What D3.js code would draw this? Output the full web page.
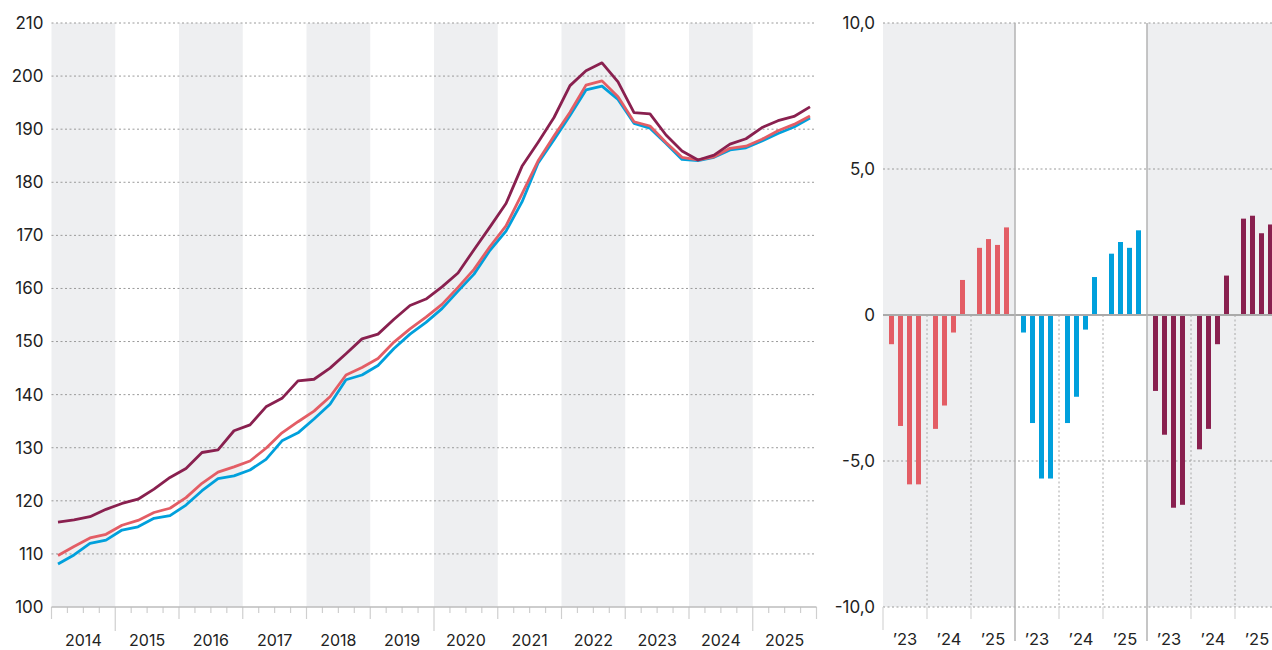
<!doctype html>
<html lang="en">
<head>
  <meta charset="utf-8">
  <script src="https://d3js.org/d3.v7.min.js"></script>
  <style>
    body { margin: 0; background: #fff; }
    text { font-family: Inter, "Noto Sans", sans-serif; fill: #222; }
  </style>
</head>
<body>
  <script>
    // ---- data ----
    var years = d3.range(2014, 2026);
    var quarters = [];
    years.forEach(function(y) { [1, 2, 3, 4].forEach(function(q) { quarters.push(y + "Q" + q); }); });

    var seriesMaroon = [116.0, 116.4, 117.0, 118.4, 119.5, 120.3, 122.2, 124.4, 126.1, 129.1, 129.6, 133.2,
                        134.3, 137.7, 139.3, 142.6, 142.9, 145.0, 147.7, 150.5, 151.4, 154.2, 156.8, 158.0,
                        160.3, 162.9, 167.3, 171.6, 176.0, 183.0, 187.5, 192.2, 198.2, 201.0, 202.5, 198.9,
                        193.1, 192.9, 188.9, 185.9, 184.2, 185.1, 187.2, 188.2, 190.3, 191.6, 192.4, 194.2];
    var seriesRed = [109.7, 111.4, 113.0, 113.7, 115.4, 116.3, 117.8, 118.6, 120.6, 123.3, 125.4, 126.4,
                     127.5, 129.9, 132.8, 134.9, 136.9, 139.6, 143.7, 145.1, 146.8, 149.9, 152.4, 154.6,
                     157.0, 160.2, 163.6, 167.9, 171.8, 177.8, 184.0, 188.7, 193.2, 198.3, 199.1, 196.1,
                     191.4, 190.6, 187.5, 184.7, 184.2, 184.8, 186.4, 186.8, 188.1, 189.7, 190.9, 192.5];
    var seriesBlue = [108.1, 109.8, 112.0, 112.6, 114.5, 115.1, 116.7, 117.2, 119.2, 121.9, 124.2, 124.7,
                      125.8, 127.8, 131.3, 132.8, 135.4, 138.2, 142.8, 143.7, 145.5, 148.7, 151.4, 153.6,
                      156.2, 159.5, 162.7, 167.2, 170.8, 176.3, 183.6, 188.0, 192.6, 197.4, 198.1, 195.6,
                      191.1, 190.2, 187.3, 184.3, 184.1, 184.7, 186.1, 186.5, 187.8, 189.2, 190.4, 192.1];
    var yTicks = d3.range(100, 211, 10);

    var barYears = ["’23", "’24", "’25"];
    var barQuarters = [1, 2, 3, 4];
    var barsRed = [-1.0, -3.8, -5.8, -5.8, -3.9, -3.1, -0.6, 1.2, 2.3, 2.6, 2.4, 3.0];
    var barsBlue = [-0.6, -3.7, -5.6, -5.6, -3.7, -2.8, -0.5, 1.3, 2.1, 2.5, 2.3, 2.9];
    var barsMaroon = [-2.6, -4.1, -6.6, -6.5, -4.6, -3.9, -1.0, 1.35, 3.3, 3.4, 2.8, 3.1];
    var barTicks = [-10, -5, 0, 5, 10];

    var colRed = "#e35d65", colBlue = "#00a0dc", colMaroon = "#89204f";
    var shade = "#eeeff1";

    var width = 1272, height = 650;
    var svg = d3.select("body").append("svg")
        .attr("width", width).attr("height", height);

    // ---- left chart ----
    var x = d3.scaleLinear().domain([2014, 2026]).range([51.5, 816.5]);
    var xq = d3.scalePoint().domain(quarters).range([58, 810]);
    var y = d3.scaleLinear().domain([100, 210]).range([607, 23]);

    var left = svg.append("g");

    // alternating year bands
    left.selectAll("rect.band")
        .data(years.filter(function(d) { return d % 2 === 0; }))
      .enter().append("rect")
        .attr("x", function(d) { return x(d); })
        .attr("width", function(d) { return x(d + 1) - x(d); })
        .attr("y", y(210)).attr("height", y(100) - y(210))
        .style("fill", shade);

    // grid
    left.selectAll("line.grid")
        .data(yTicks.filter(function(d) { return d > 100; }))
      .enter().append("line")
        .attr("x1", x(2014)).attr("x2", x(2026))
        .attr("y1", function(d) { return y(d); }).attr("y2", function(d) { return y(d); })
        .style("stroke", "#9a9a9a").style("stroke-dasharray", "2,2.5");

    left.append("g")
        .attr("transform", "translate(" + x(2014) + ",0)")
        .call(d3.axisLeft(y).tickValues(yTicks).tickSize(0).tickPadding(8))
        .call(function(g) { g.select(".domain").remove(); })
        .selectAll("text").style("font-size", "17px").style("font-family", "Inter, sans-serif").style("fill", "#222");

    // bottom axis
    var qTicks = d3.range(0, 49).map(function(k) { return 2014 + k / 4; });
    left.selectAll("line.qtick")
        .data(qTicks)
      .enter().append("line")
        .attr("x1", function(d) { return x(d); }).attr("x2", function(d) { return x(d); })
        .attr("y1", y(100))
        .attr("y2", function(d) {
          if (d % 5 === 0) return y(100) + 24;
          if (d % 1 === 0) return y(100) + 12;
          return y(100) + 6;
        })
        .style("stroke", "#cfcfcf").style("stroke-width", 1.2);
    left.append("line")
        .attr("x1", x(2014)).attr("x2", x(2026))
        .attr("y1", y(100)).attr("y2", y(100))
        .style("stroke", "#bdbdbd").style("stroke-width", 1.5);

    left.selectAll("text.year")
        .data(years)
      .enter().append("text")
        .attr("x", function(d) { return x(d + 0.5); })
        .attr("y", 646)
        .attr("text-anchor", "middle")
        .style("font-size", "16px")
        .text(function(d) { return d; });

    var line = d3.line()
        .x(function(d, i) { return xq(quarters[i]); })
        .y(function(d) { return y(d); });

    [[seriesBlue, colBlue], [seriesRed, colRed], [seriesMaroon, colMaroon]].forEach(function(s) {
      left.append("path")
          .datum(s[0])
          .attr("d", line)
          .style("fill", "none")
          .style("stroke", s[1])
          .style("stroke-width", 2.8)
          .style("stroke-linejoin", "round");
    });

    // ---- right chart ----
    var panels = [["red", barsRed, colRed], ["blue", barsBlue, colBlue], ["maroon", barsMaroon, colMaroon]];
    var xp = d3.scaleBand().domain(panels.map(function(p) { return p[0]; })).range([883, 1279]);
    var xy = d3.scaleBand().domain(barYears).range([0, xp.bandwidth()]);
    var xb = d3.scaleBand().domain(barQuarters).range([0, xy.bandwidth()])
        .paddingInner(4 / 9).paddingOuter(2 / 3);
    var yb = d3.scaleLinear().domain([-10, 10]).range([607, 23]);

    var right = svg.append("g");

    right.selectAll("rect.pbg")
        .data(panels.filter(function(p, i) { return i !== 1; }))
      .enter().append("rect")
        .attr("x", function(p) { return xp(p[0]); })
        .attr("width", xp.bandwidth())
        .attr("y", yb(10)).attr("height", yb(-10) - yb(10))
        .style("fill", shade);

    right.selectAll("line.rgrid")
        .data(barTicks.filter(function(d) { return d !== 0; }))
      .enter().append("line")
        .attr("x1", 883).attr("x2", width)
        .attr("y1", function(d) { return yb(d); }).attr("y2", function(d) { return yb(d); })
        .style("stroke", "#9a9a9a").style("stroke-dasharray", "2,2.5");

    right.append("g")
        .attr("transform", "translate(883,0)")
        .call(d3.axisLeft(yb).tickValues(barTicks).tickSize(0).tickPadding(8)
          .tickFormat(function(d) { return d === 0 ? "0" : d.toFixed(1).replace(".", ","); }))
        .call(function(g) { g.select(".domain").remove(); })
        .selectAll("text").style("font-size", "17px").style("font-family", "Inter, sans-serif").style("fill", "#222");

    panels.forEach(function(p, pi) {
      var g = right.append("g").attr("transform", "translate(" + xp(p[0]) + ",0)");
      // dotted year separators below zero
      g.selectAll("line.ysep")
          .data(barYears.slice(1))
        .enter().append("line")
          .attr("x1", function(d) { return xy(d); }).attr("x2", function(d) { return xy(d); })
          .attr("y1", yb(0)).attr("y2", yb(-10))
          .style("stroke", "#a8a8a8").style("stroke-dasharray", "2,2.5");
      g.selectAll("line.ytick")
          .data(barYears.slice(1))
        .enter().append("line")
          .attr("x1", function(d) { return xy(d); }).attr("x2", function(d) { return xy(d); })
          .attr("y1", yb(-10)).attr("y2", yb(-10) + 12)
          .style("stroke", "#d5d5d5").style("stroke-width", 1.2);

      g.selectAll("rect.bar")
          .data(p[1])
        .enter().append("rect")
          .attr("x", function(d, i) { return xy(barYears[Math.floor(i / 4)]) + xb(barQuarters[i % 4]); })
          .attr("width", xb.bandwidth())
          .attr("y", function(d) { return yb(Math.max(0, d)); })
          .attr("height", function(d) { return Math.abs(yb(d) - yb(0)); })
          .style("fill", p[2]);

      g.selectAll("text.by")
          .data(barYears)
        .enter().append("text")
          .attr("x", function(d) { return xy(d) + xy.bandwidth() / 2; })
          .attr("y", 645)
          .attr("text-anchor", "middle")
          .style("font-size", "16.5px")
          .text(function(d) { return d; });
    });

    // zero line
    right.append("line")
        .attr("x1", 883).attr("x2", width)
        .attr("y1", yb(0)).attr("y2", yb(0))
        .style("stroke", "#aaaaaa").style("stroke-width", 2);

    // left edge tick
    right.append("line")
        .attr("x1", 883).attr("x2", 883)
        .attr("y1", yb(-10)).attr("y2", yb(-10) + 23)
        .style("stroke", "#d5d5d5").style("stroke-width", 1.2);

    // panel separators
    right.selectAll("line.psep")
        .data(panels.slice(1))
      .enter().append("line")
        .attr("x1", function(p) { return xp(p[0]); }).attr("x2", function(p) { return xp(p[0]); })
        .attr("y1", yb(10)).attr("y2", 641)
        .style("stroke", "#b3b3b3").style("stroke-width", 1.5);
  </script>
</body>
</html>
